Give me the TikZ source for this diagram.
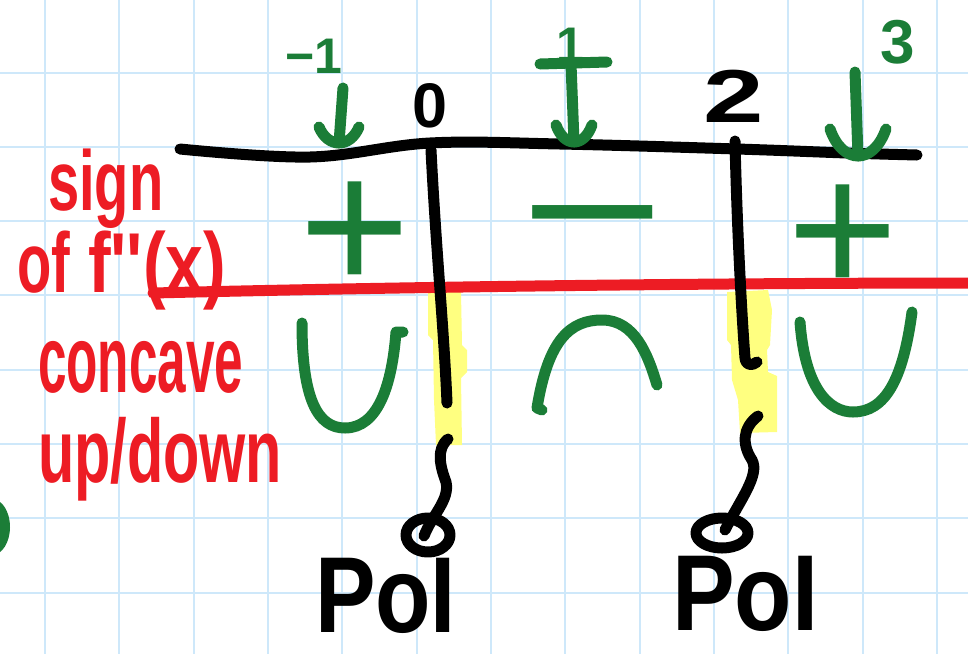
\documentclass[tikz,border=0pt]{standalone}
\usepackage{fontspec}
\setmainfont{Liberation Sans}
\usetikzlibrary{calc}

\definecolor{gridblue}{RGB}{206,232,250}
\definecolor{penred}{RGB}{237,28,36}
\definecolor{pengreen}{RGB}{27,125,55}
\definecolor{hilite}{RGB}{255,255,128}

% handwritten-style text: size, horizontal squeeze, text
\newcommand\hw[3]{\scalebox{#2}[1]{\fontsize{#1}{#1}\selectfont\bfseries #3}}
\newcommand\hsym[3]{\scalebox{#2}[1]{\fontsize{#1}{#1}\selectfont #3}}
% rounded arrow head under a tip: tip, half width, depth
\newcommand\uhead[3]{\draw[greenpen] ($(#1)+(-#2,-#3)$) .. controls ($(#1)+({-0.55*#2},{#3/3})$) and ($(#1)+({0.55*#2},{#3/3})$) .. ($(#1)+(#2,-#3)$);}

\tikzset{
  pen/.style={line width=11pt, line cap=round, line join=round},
  blackpen/.style={pen, black},
  greenpen/.style={pen, pengreen},
  redpen/.style={pen, penred},
  lbl/.style={inner sep=0pt, outer sep=0pt, anchor=base west},
  sym/.style={inner sep=0pt, outer sep=0pt, pengreen},
}

\begin{document}
\begin{tikzpicture}[x=1pt,y=-1pt]
\useasboundingbox (0,0) rectangle (968,654);
\clip (0,0) rectangle (968,654);
\fill[white] (0,0) rectangle (968,654);

% squared paper
\foreach \i in {0,...,12}
  \draw[gridblue, line width=2pt] ({45+74.33*\i},0) -- ({45+74.33*\i},654);
\foreach \j in {0,...,7}
  \draw[gridblue, line width=2pt] (0,{72.5+74.33*\j}) -- (968,{72.5+74.33*\j});

% stray green mark at the margin
\fill[pengreen] (-8,527) ellipse (18 and 28);

% highlighter behind the two dividing lines
\fill[hilite] (428,292) -- (461,292) -- (462,345) -- (467,350) -- (467,372) -- (461,378)
  -- (462,445) -- (436,445) -- (434,400) -- (433,340) -- (428,335) -- cycle;
\fill[hilite] (727,292) -- (768,290) -- (772,310) -- (770,345) -- (767,350) -- (768,372)
  -- (777,376) -- (777,432) -- (740,433) -- (738,400) -- (732,380) -- (731,345) -- (727,340) -- cycle;

% red underline of the sign row
\draw[redpen] (153,293) .. controls (400,287) and (700,283) .. (980,283);

% number line and dividers
\draw[blackpen] plot[smooth, tension=0.6] coordinates
  {(180,149) (310,157) (430,143) (560,144) (737,149) (847,153) (917,155)};
\coordinate (dLtop) at (431,150);
\coordinate (dLbot) at (447,403);
\coordinate (dRtop) at (735,141);
\coordinate (dRbot) at (757,362);
\draw[blackpen] (dLtop) .. controls (436,250) and (444,330) .. (dLbot);
\draw[blackpen] (dRtop) .. controls (737,230) and (742,320) .. (745,358)
  .. controls (746,366) and (752,366) .. (dRbot);

% labels on the number line
\node[lbl] (n0) at (412,127) {\hw{63}{1}{0}};
\node[lbl] (n2) at (703,122) {\hw{75}{1.45}{2}};

% test values with arrows onto the line
\node[lbl, pengreen] (tm1) at (285,73) {\hw{50}{1}{−1}};
\node[lbl, pengreen] (t1) at (556,62) {\hw{50}{1}{1}};
\node[lbl, pengreen] (t3) at (880,63) {\hw{62}{1}{3}};

\coordinate (am1top) at (343,88);
\coordinate (am1tip) at (339,143);
\draw[greenpen] (am1top) -- (am1tip);
\uhead{am1tip}{20}{16}

\coordinate (a1barL) at (540,64);
\coordinate (a1barR) at (607,62);
\coordinate (a1top) at (571,64);
\coordinate (a1tip) at (574,142);
\draw[greenpen] (a1barL) -- (a1barR);
\draw[greenpen] (a1top) -- (a1tip);
\uhead{a1tip}{18}{17}

\coordinate (a3top) at (855,72);
\coordinate (a3tip) at (858,156);
\draw[greenpen] (a3top) -- (a3tip);
\uhead{a3tip}{28}{27}

% signs of f''
\node[sym] (sL) at (355,237) {\hsym{190}{1}{+}};
\node[sym] (sM) at (593,241) {\hsym{190}{1.3}{−}};
\node[sym] (sR) at (843,240) {\hsym{190}{1}{+}};

% concavity shapes
\draw[greenpen] (302,323) .. controls (302,400) and (318,428) .. (345,428)
  .. controls (378,428) and (392,385) .. (396,332) -- (403,332);
\draw[greenpen] (542,410) -- (537,408) .. controls (548,340) and (570,320) .. (602,320)
  .. controls (635,320) and (648,355) .. (657,385);
\draw[greenpen] (800,322) .. controls (805,390) and (830,412) .. (853,412)
  .. controls (885,412) and (903,380) .. (912,312);

% row titles
\node[lbl, penred] (sign) at (48,210) {\hw{85}{0.66}{sign}};
\node[lbl, penred] (of) at (17,292) {\hw{85}{0.66}{of}};
\node[lbl, penred] (fpp) at (88,292) {\hw{85}{0.8}{f\textquotesingle\textquotesingle(x)}};
\node[lbl, penred] (concave) at (38,392) {\hw{95}{0.54}{concave}};
\node[lbl, penred] (updown) at (38,482) {\hw{90}{0.66}{up/down}};

% points of inflection
\node[lbl] (poiL) at (315,632) {\raisebox{0pt}[\height][0pt]{\hw{108}{0.84}{PoI}}};
\node[lbl] (poiR) at (672,630) {\raisebox{0pt}[\height][0pt]{\hw{108}{0.87}{PoI}}};

\coordinate (sqL) at (448,439);
\coordinate (sqR) at (758,416);
\draw[blackpen] (sqL) .. controls (436,449) and (440,466) .. (446,482)
  .. controls (450,500) and (432,515) .. (424,536);
\draw[blackpen] (428,535) ellipse (22 and 17);
\draw[blackpen] (sqR) .. controls (742,428) and (742,445) .. (752,460)
  .. controls (760,475) and (740,500) .. (725,530);
\draw[blackpen] (722,533) ellipse (26 and 15);
\end{tikzpicture}
\end{document}
